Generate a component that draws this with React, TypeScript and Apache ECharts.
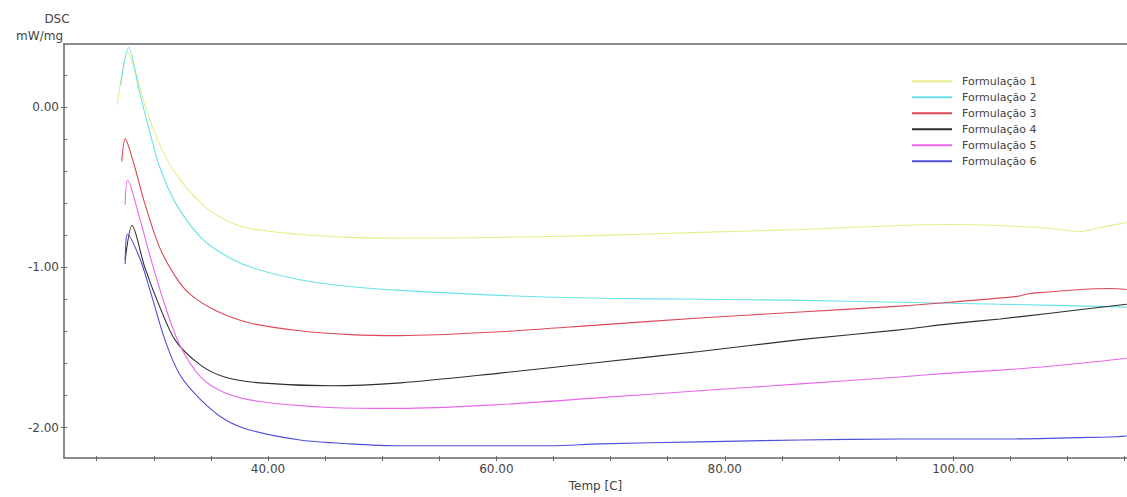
import React, { useEffect, useRef } from "react";
import * as echarts from "echarts";

const seriesNames = [
  "Formulação 1",
  "Formulação 2",
  "Formulação 3",
  "Formulação 4",
  "Formulação 5",
  "Formulação 6",
];
const seriesColors = ["#e8ec8a", "#6ae2ea", "#dc4856", "#2e2e2e", "#ea66ea", "#4e4ed8"];

// [Temp (C), DSC (mW/mg)]
const f1: [number, number][] = [
  [26.8, 0.015], [27.2, 0.199], [27.7, 0.341], [28.4, 0.218], [29.2, 0.015],
  [30.5, -0.23], [31.9, -0.414], [34.1, -0.598], [36.2, -0.702], [38.4, -0.758],
  [42.8, -0.794], [47.2, -0.813], [51.6, -0.819], [60.3, -0.813], [69.1, -0.801],
  [77.8, -0.782], [86.6, -0.764], [95.3, -0.739], [99.7, -0.733], [104.1, -0.739],
  [108.5, -0.758], [111.1, -0.776], [112.9, -0.752], [115.2, -0.721],
];
const f2: [number, number][] = [
  [27.1, 0.138], [27.8, 0.371], [28.8, 0.077], [29.7, -0.169], [30.5, -0.371],
  [31.9, -0.598], [34.1, -0.813], [36.2, -0.923], [38.4, -0.997], [42.8, -1.077],
  [47.2, -1.12], [51.6, -1.144], [60.3, -1.175], [69.1, -1.193], [77.8, -1.199],
  [86.6, -1.206], [95.3, -1.218], [104.1, -1.23], [115.2, -1.248],
];
const f3: [number, number][] = [
  [27.2, -0.34], [27.5, -0.199], [28.2, -0.34], [29.2, -0.598], [30.5, -0.874],
  [31.9, -1.058], [33.2, -1.169], [35.5, -1.273], [38.4, -1.347], [42.8, -1.396],
  [47.2, -1.42], [51.6, -1.426], [60.3, -1.402], [69.1, -1.359], [77.8, -1.316],
  [86.6, -1.279], [95.3, -1.242], [99.7, -1.218], [105.6, -1.181], [106.7, -1.163],
  [113.7, -1.132], [115.2, -1.138],
];
const f4: [number, number][] = [
  [27.5, -0.954], [28.1, -0.739], [29.2, -0.997], [30.5, -1.242], [31.9, -1.457],
  [34.1, -1.61], [36.2, -1.684], [39.3, -1.721], [45.4, -1.739], [51.6, -1.721],
  [60.3, -1.66], [69.1, -1.592], [77.8, -1.525], [86.6, -1.451], [95.3, -1.39],
  [99.7, -1.353], [104.1, -1.322], [108.5, -1.286], [115.2, -1.23],
];
const f5: [number, number][] = [
  [27.5, -0.61], [27.7, -0.457], [28.8, -0.702], [29.7, -0.936], [31.0, -1.242],
  [32.3, -1.488], [34.1, -1.684], [36.2, -1.782], [39.3, -1.837], [45.4, -1.874],
  [51.6, -1.88], [60.3, -1.856], [69.1, -1.813], [77.8, -1.77], [86.6, -1.727],
  [95.3, -1.684], [99.7, -1.66], [104.1, -1.641], [108.5, -1.617], [112.9, -1.586],
  [115.2, -1.567],
];
const f6: [number, number][] = [
  [27.5, -0.979], [27.7, -0.794], [28.8, -0.948], [29.7, -1.15], [31.0, -1.457],
  [32.3, -1.672], [34.1, -1.825], [36.2, -1.948], [38.4, -2.015], [42.8, -2.077],
  [47.2, -2.101], [51.6, -2.113], [64.7, -2.113], [69.1, -2.101], [77.8, -2.089],
  [86.6, -2.077], [95.3, -2.071], [104.1, -2.071], [113.7, -2.058], [115.2, -2.052],
];
const seriesData = [f1, f2, f3, f4, f5, f6];

const xMin = 22.14;
const xMax = 115.22;
const yMin = -2.19;
const yMax = 0.393;
const xLabelValues = [40, 60, 80, 100];
const xTickValues = [25, 30, 35, 40, 45, 50, 55, 60, 65, 70, 75, 80, 85, 90, 95, 100, 105, 110, 115];
const yLabelValues = [-2, -1, 0];
const yMinorTickValues = [-2, -1.8, -1.6, -1.4, -1.2, -1, -0.8, -0.6, -0.4, -0.2, 0, 0.2];

const FONT = "DejaVu Sans";
const AXIS_COLOR = "#666";
const TEXT_COLOR = "#444";

export default function App() {
  const ref = useRef<HTMLDivElement>(null);
  useEffect(() => {
    if (!ref.current) return;
    const chart = echarts.init(ref.current, undefined, { renderer: "svg" });
    const baseX = {
      type: "value",
      min: xMin,
      max: xMax,
      splitLine: { show: false },
    };
    const baseY = {
      type: "value",
      min: yMin,
      max: yMax,
      splitLine: { show: false },
    };
    chart.setOption({
      animation: false,
      backgroundColor: "#ffffff",
      grid: { left: 64, right: 0, top: 44, bottom: 33, containLabel: false },
      graphic: [
        {
          type: "text",
          x: 57,
          y: 13,
          style: { text: "DSC", font: `12px "${FONT}"`, fill: TEXT_COLOR, textAlign: "center" },
        },
        {
          type: "text",
          x: 63,
          y: 30,
          style: { text: "mW/mg", font: `12px "${FONT}"`, fill: TEXT_COLOR, textAlign: "right" },
        },
      ],
      legend: {
        orient: "vertical",
        left: 912,
        top: 75,
        padding: 0,
        icon: "rect",
        itemWidth: 40,
        itemHeight: 2,
        itemGap: 3.5,
        textStyle: {
          fontFamily: FONT,
          fontSize: 11,
          color: TEXT_COLOR,
          lineHeight: 12.5,
          padding: [0, 0, 0, 5],
        },
        data: seriesNames,
      },
      xAxis: [
        {
          ...baseX,
          position: "bottom",
          name: "Temp [C]",
          nameLocation: "middle",
          nameGap: 20,
          nameTextStyle: { fontFamily: FONT, fontSize: 12, color: TEXT_COLOR },
          axisLine: { onZero: false, lineStyle: { color: AXIS_COLOR, width: 1.5 } },
          axisTick: { show: true, customValues: xTickValues, length: 3, lineStyle: { color: AXIS_COLOR } },
          axisLabel: {
            customValues: xLabelValues,
            formatter: (v: number) => v.toFixed(2),
            fontFamily: FONT,
            fontSize: 12,
            color: TEXT_COLOR,
            margin: 5,
          },
        },
        {
          ...baseX,
          position: "top",
          axisLine: { onZero: false, lineStyle: { color: AXIS_COLOR, width: 1.5 } },
          axisTick: { show: false },
          axisLabel: { show: false },
        },
        {
          ...baseX,
          position: "bottom",
          axisLine: { show: false, onZero: false },
          axisTick: { show: true, inside: true, customValues: xTickValues, length: 2, lineStyle: { color: AXIS_COLOR } },
          axisLabel: { show: false },
        },
      ],
      yAxis: [
        {
          ...baseY,
          position: "left",
          axisLine: { show: true, onZero: false, lineStyle: { color: AXIS_COLOR, width: 1.5 } },
          axisTick: { show: true, customValues: yLabelValues, length: 3, lineStyle: { color: AXIS_COLOR } },
          axisLabel: {
            customValues: yLabelValues,
            formatter: (v: number) => v.toFixed(2),
            fontFamily: FONT,
            fontSize: 12,
            color: TEXT_COLOR,
            margin: 5,
          },
        },
        {
          ...baseY,
          position: "left",
          axisLine: { show: false, onZero: false },
          axisTick: { show: true, inside: true, customValues: yMinorTickValues, length: 3, lineStyle: { color: AXIS_COLOR } },
          axisLabel: { show: false },
        },
      ],
      series: seriesNames.map((name, i) => ({
        name,
        type: "line",
        xAxisIndex: 0,
        yAxisIndex: 0,
        data: seriesData[i],
        showSymbol: false,
        symbol: "none",
        smooth: 0.3,
        color: seriesColors[i],
        lineStyle: { width: 1.1, color: seriesColors[i] },
      })),
    });
    return () => chart.dispose();
  }, []);
  return (
    <div
      ref={ref}
      style={{ position: "fixed", left: 0, top: 0, width: 1127, height: 497 }}
    />
  );
}
